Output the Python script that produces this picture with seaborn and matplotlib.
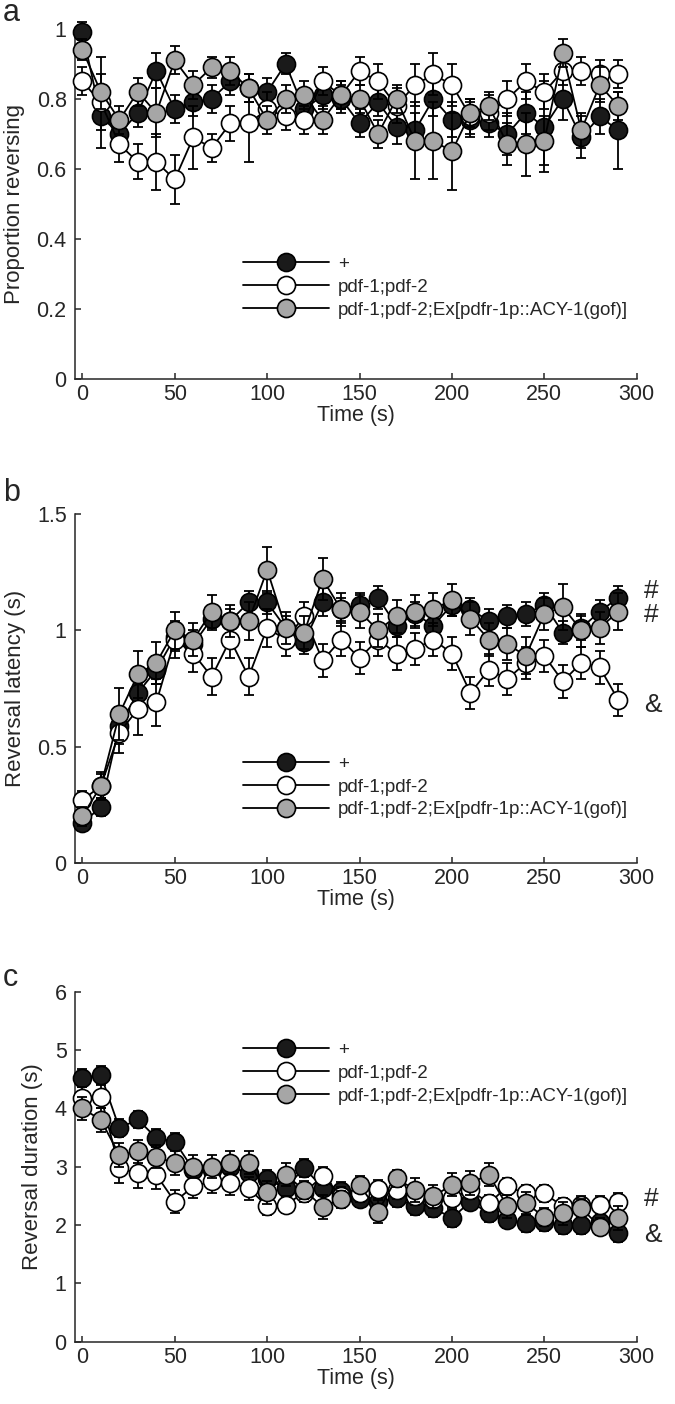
import matplotlib
matplotlib.use("Agg")
import matplotlib.pyplot as plt
import seaborn as sns
import numpy as np
import pandas as pd
from matplotlib.lines import Line2D

# ---------------- data ----------------
time_s = list(range(0, 300, 10))
series_names = ["+", "pdf-1;pdf-2", "pdf-1;pdf-2;Ex[pdfr-1p::ACY-1(gof)]"]
series_faces = ["#1a1a1a", "white", "#a6a6a6"]

# Panel a: proportion reversing
prop_wt = [0.99, 0.75, 0.70, 0.76, 0.88, 0.77, 0.79, 0.80, 0.85, 0.83, 0.82, 0.90, 0.77, 0.81, 0.80,
           0.73, 0.79, 0.72, 0.71, 0.80, 0.74, 0.74, 0.73, 0.70, 0.76, 0.72, 0.80, 0.69, 0.75, 0.71]
prop_pdf = [0.85, 0.79, 0.67, 0.62, 0.62, 0.57, 0.69, 0.66, 0.73, 0.73, 0.77, 0.75, 0.74, 0.85, 0.81,
            0.88, 0.85, 0.78, 0.84, 0.87, 0.84, 0.75, 0.76, 0.80, 0.85, 0.82, 0.88, 0.88, 0.87, 0.87]
prop_res = [0.94, 0.82, 0.74, 0.82, 0.76, 0.91, 0.84, 0.89, 0.88, 0.83, 0.74, 0.80, 0.81, 0.74, 0.81,
            0.80, 0.70, 0.80, 0.68, 0.68, 0.65, 0.76, 0.78, 0.67, 0.67, 0.68, 0.93, 0.71, 0.84, 0.78]
prop_wt_err = [0.03, 0.04, 0.04, 0.04, 0.05, 0.04, 0.04, 0.04, 0.04, 0.04, 0.04, 0.03, 0.04, 0.04, 0.04,
               0.04, 0.04, 0.05, 0.05, 0.05, 0.05, 0.05, 0.04, 0.06, 0.06, 0.13, 0.06, 0.06, 0.05, 0.11]
prop_pdf_err = [0.04, 0.13, 0.05, 0.05, 0.08, 0.07, 0.09, 0.04, 0.05, 0.11, 0.05, 0.04, 0.04, 0.04, 0.04,
                0.04, 0.05, 0.05, 0.06, 0.06, 0.06, 0.05, 0.05, 0.05, 0.05, 0.05, 0.04, 0.04, 0.04, 0.04]
prop_res_err = [0.03, 0.05, 0.04, 0.04, 0.07, 0.04, 0.04, 0.03, 0.04, 0.04, 0.04, 0.04, 0.04, 0.04, 0.04,
                0.04, 0.04, 0.04, 0.11, 0.11, 0.11, 0.04, 0.04, 0.06, 0.09, 0.07, 0.04, 0.05, 0.05, 0.04]

# Panel b: reversal latency (s)
lat_wt = [0.17, 0.24, 0.59, 0.73, 0.83, 0.97, 0.94, 1.05, 1.04, 1.12, 1.12, 1.01, 0.95, 1.12, 1.09,
          1.11, 1.14, 1.02, 1.07, 1.02, 1.11, 1.09, 1.04, 1.06, 1.07, 1.11, 0.99, 1.01, 1.08, 1.14]
lat_pdf = [0.27, 0.33, 0.56, 0.66, 0.69, 0.96, 0.90, 0.80, 0.96, 0.80, 1.01, 0.96, 1.06, 0.87, 0.96,
           0.88, 0.96, 0.90, 0.92, 0.96, 0.90, 0.73, 0.83, 0.79, 0.86, 0.89, 0.78, 0.86, 0.84, 0.70]
lat_res = [0.20, 0.33, 0.64, 0.81, 0.86, 1.00, 0.96, 1.08, 1.04, 1.04, 1.26, 1.01, 0.99, 1.22, 1.09,
           1.08, 1.00, 1.06, 1.08, 1.09, 1.13, 1.05, 0.96, 0.94, 0.89, 1.07, 1.10, 1.00, 1.01, 1.08]
lat_wt_err = [0.03, 0.04, 0.08, 0.08, 0.06, 0.06, 0.06, 0.05, 0.05, 0.05, 0.05, 0.05, 0.05, 0.06, 0.05,
              0.05, 0.05, 0.05, 0.05, 0.05, 0.05, 0.05, 0.05, 0.05, 0.05, 0.05, 0.05, 0.05, 0.05, 0.05]
lat_pdf_err = [0.04, 0.05, 0.09, 0.11, 0.10, 0.08, 0.08, 0.08, 0.08, 0.08, 0.08, 0.07, 0.06, 0.07, 0.07,
               0.07, 0.07, 0.07, 0.07, 0.07, 0.07, 0.07, 0.07, 0.07, 0.07, 0.07, 0.07, 0.07, 0.07, 0.07]
lat_res_err = [0.04, 0.06, 0.11, 0.10, 0.09, 0.08, 0.07, 0.07, 0.07, 0.08, 0.10, 0.07, 0.07, 0.09, 0.07,
               0.07, 0.07, 0.07, 0.07, 0.07, 0.07, 0.07, 0.07, 0.07, 0.08, 0.07, 0.10, 0.07, 0.07, 0.08]

# Panel c: reversal duration (s)
dur_wt = [4.52, 4.57, 3.66, 3.81, 3.49, 3.43, 2.95, 2.95, 3.00, 2.89, 2.79, 2.63, 2.98, 2.64, 2.58,
          2.45, 2.40, 2.46, 2.32, 2.29, 2.12, 2.40, 2.20, 2.09, 2.03, 2.05, 2.00, 2.00, 2.05, 1.86]
dur_pdf = [4.17, 4.20, 2.97, 2.89, 2.86, 2.40, 2.66, 2.75, 2.72, 2.63, 2.32, 2.35, 2.55, 2.84, 2.50,
           2.55, 2.62, 2.60, 2.50, 2.45, 2.46, 2.60, 2.37, 2.66, 2.54, 2.54, 2.32, 2.34, 2.34, 2.40]
dur_res = [4.00, 3.80, 3.20, 3.26, 3.17, 3.06, 3.00, 3.00, 3.07, 3.07, 2.56, 2.86, 2.60, 2.31, 2.44,
           2.69, 2.23, 2.80, 2.60, 2.49, 2.69, 2.72, 2.86, 2.32, 2.37, 2.14, 2.20, 2.29, 1.97, 2.12]
dur_wt_err = [0.15, 0.15, 0.15, 0.15, 0.15, 0.15, 0.15, 0.15, 0.15, 0.15, 0.15, 0.15, 0.15, 0.15, 0.15,
              0.15, 0.15, 0.15, 0.15, 0.15, 0.15, 0.15, 0.15, 0.15, 0.15, 0.15, 0.15, 0.15, 0.15, 0.15]
dur_pdf_err = [0.20, 0.20, 0.25, 0.25, 0.25, 0.20, 0.20, 0.20, 0.20, 0.20, 0.15, 0.15, 0.15, 0.15, 0.15,
               0.15, 0.15, 0.15, 0.15, 0.15, 0.15, 0.15, 0.15, 0.15, 0.15, 0.15, 0.15, 0.15, 0.15, 0.15]
dur_res_err = [0.20, 0.20, 0.20, 0.20, 0.20, 0.20, 0.20, 0.20, 0.20, 0.20, 0.20, 0.20, 0.15, 0.20, 0.15,
               0.15, 0.20, 0.15, 0.20, 0.20, 0.20, 0.20, 0.20, 0.20, 0.20, 0.15, 0.20, 0.15, 0.15, 0.20]

# ---------------- style ----------------
sns.set_style("ticks")
plt.rcParams["font.family"] = ["Liberation Sans", "DejaVu Sans"]
plt.rcParams["xtick.direction"] = "in"
plt.rcParams["ytick.direction"] = "in"
plt.rcParams["axes.linewidth"] = 1.1

TICK_FS = 15.5
LABEL_FS = 16
LEG_FS = 13.5
fig = plt.figure(figsize=(6.75, 14.04), dpi=100)

panels = [
    dict(rect=[0.1111, 0.7301, 0.8322, 0.2493], data=[prop_wt, prop_pdf, prop_res],
         err=[prop_wt_err, prop_pdf_err, prop_res_err], ylim=(0, 1),
         yticks=[0, 0.2, 0.4, 0.6, 0.8, 1.0], yticklabels=["0", "0.2", "0.4", "0.6", "0.8", "1"],
         ylabel="Proportion reversing", leg_y=0.262, marks=[], letter="a", letter_y=13),
    dict(rect=[0.1111, 0.3855, 0.8322, 0.2484], data=[lat_wt, lat_pdf, lat_res],
         err=[lat_wt_err, lat_pdf_err, lat_res_err], ylim=(0, 1.5),
         yticks=[0, 0.5, 1.0, 1.5], yticklabels=["0", "0.5", "1", "1.5"],
         ylabel="Reversal latency (s)", leg_y=0.217,
         marks=[("#", 1.17), ("#", 1.065), ("&", 0.68)], letter="b", letter_y=493),
    dict(rect=[0.1111, 0.0444, 0.8322, 0.2493], data=[dur_wt, dur_pdf, dur_res],
         err=[dur_wt_err, dur_pdf_err, dur_res_err], ylim=(0, 6),
         yticks=[0, 1, 2, 3, 4, 5, 6], yticklabels=["0", "1", "2", "3", "4", "5", "6"],
         ylabel="Reversal duration (s)", leg_y=0.767,
         marks=[("#", 2.45), ("&", 1.83)], letter="c", letter_y=978),
]

MS = 13
for p in panels:
    ax = fig.add_axes(p["rect"])
    for i, (vals, errs, face, name) in enumerate(zip(p["data"], p["err"], series_faces, series_names)):
        z = 3 + i
        ax.errorbar(time_s, vals, yerr=errs, fmt="none", ecolor="black", elinewidth=1.3,
                    capsize=3.6, capthick=1.3, zorder=z, clip_on=False)
        df = pd.DataFrame({"Time (s)": time_s, "value": vals})
        sns.lineplot(data=df, x="Time (s)", y="value", ax=ax, color="black", lw=1.3,
                     marker="o", markersize=MS, markerfacecolor=face, markeredgecolor="black",
                     markeredgewidth=1.2, zorder=z + 0.5, clip_on=False, legend=False)
    ax.set_xlim(-4, 300)
    ax.set_ylim(*p["ylim"])
    ax.set_xticks([0, 50, 100, 150, 200, 250, 300])
    ax.set_yticks(p["yticks"])
    ax.set_yticklabels(p["yticklabels"])
    ax.tick_params(axis="both", labelsize=TICK_FS, length=4.3, width=1.1)
    ax.tick_params(axis="y", pad=6)
    ax.tick_params(axis="x", pad=4)
    ax.set_xlabel("Time (s)", fontsize=LABEL_FS - 0.5, labelpad=0)
    ax.set_ylabel(p["ylabel"], fontsize=LABEL_FS, labelpad=8)
    sns.despine(ax=ax)
    for sym, yv in p["marks"]:
        ax.text(304, yv, sym, fontsize=19, ha="left", va="center", clip_on=False)
    handles = [Line2D([], [], color="black", lw=1.3, marker="o", markersize=MS,
                      markerfacecolor=f, markeredgecolor="black", markeredgewidth=1.2)
               for f in series_faces]
    ax.legend(handles, series_names, loc="center left", bbox_to_anchor=(0.299, p["leg_y"]),
              frameon=False, fontsize=LEG_FS, handlelength=4.6, handletextpad=0.45,
              labelspacing=0.3, borderpad=0, borderaxespad=0)
    fig.text(0.004, 1 - p["letter_y"] / 1404, p["letter"], fontsize=22, ha="left", va="center")

fig.savefig("out.png", dpi=100)
